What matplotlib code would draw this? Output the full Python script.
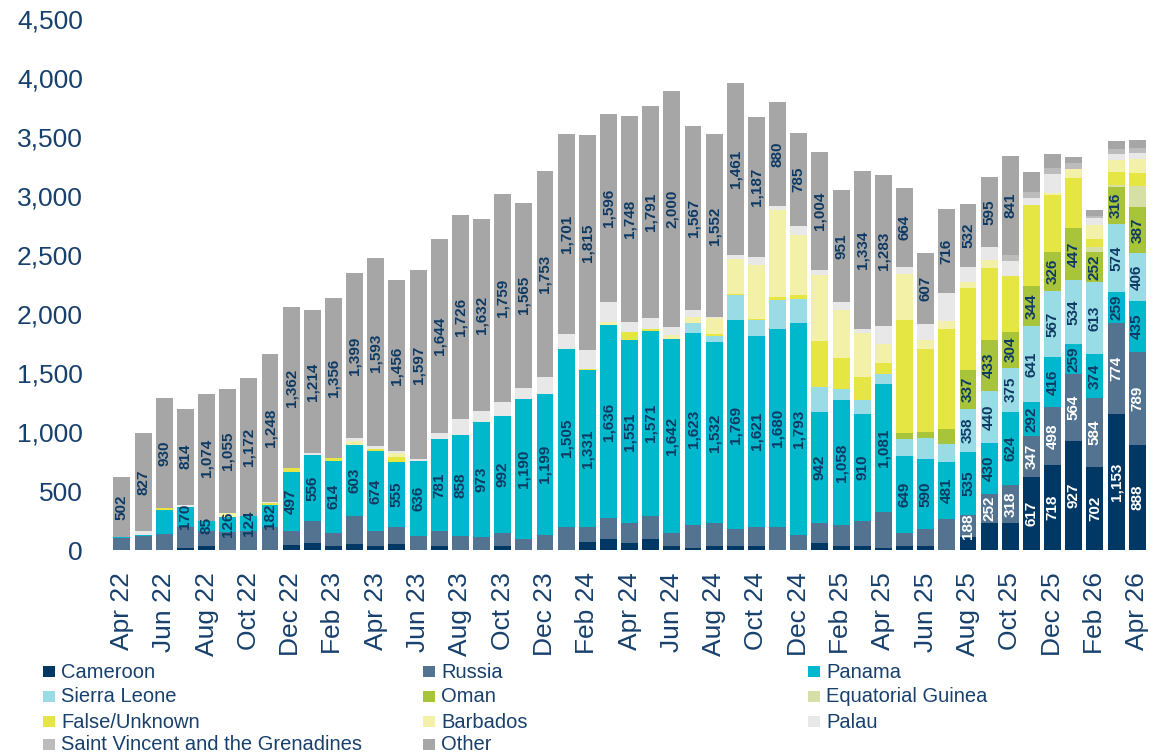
import numpy as np
import pandas as pd
import matplotlib
matplotlib.use("Agg")
import matplotlib.pyplot as plt
from matplotlib.patches import Rectangle

plt.rcParams['font.family'] = ['Liberation Sans', 'DejaVu Sans']

months = list(pd.date_range("2022-04-01", periods=49, freq="MS").strftime("%b %y"))

cameroon = [0, 0, 0, 20, 34, 0, 0, 0, 40, 59, 34, 51, 34, 51, 0, 34, 0, 0, 34, 0, 0, 0, 68, 93, 59,
            93, 34, 17, 34, 34, 34, 0, 0, 59, 34, 34, 17, 34, 34, 0, 110, 225, 229, 617, 718, 927, 702, 1153, 888]
russia = [105, 119, 139, 178, 127, 155, 161, 198, 125, 186, 110, 237, 127, 144, 119, 127, 119, 110, 110, 93, 127, 195, 127, 178, 169,
          195, 110, 195, 195, 144, 161, 195, 127, 169, 178, 212, 305, 110, 144, 263, 188, 252, 318, 347, 498, 564, 584, 774, 789]
panama = [8, 8, 203, 170, 85, 126, 124, 182, 497, 556, 614, 603, 674, 555, 636, 781, 858, 973, 992, 1190, 1199, 1505, 1331, 1636, 1551,
          1571, 1642, 1623, 1532, 1769, 1621, 1680, 1793, 942, 1058, 910, 1081, 649, 590, 481, 535, 430, 624, 292, 416, 259, 374, 259, 435]
sierra_leone = [0, 0, 0, 0, 0, 0, 0, 0, 0, 0, 0, 0, 0, 0, 0, 0, 0, 0, 0, 0, 0, 0, 0, 0, 0,
                0, 0, 85, 51, 212, 136, 246, 203, 212, 93, 119, 85, 144, 178, 153, 358, 440, 375, 641, 567, 534, 613, 574, 406]
oman = [0, 0, 0, 0, 0, 0, 0, 0, 0, 0, 0, 0, 0, 0, 0, 0, 0, 0, 0, 0, 0, 0, 0, 0, 0,
        0, 0, 0, 0, 0, 0, 0, 0, 0, 0, 0, 0, 51, 51, 127, 337, 433, 304, 344, 326, 447, 252, 316, 387]
eq_guinea = [0, 0, 0, 0, 0, 0, 0, 0, 0, 0, 0, 0, 0, 0, 0, 0, 0, 0, 0, 0, 0, 0, 0, 0, 0,
             0, 0, 0, 0, 0, 0, 0, 0, 0, 0, 0, 0, 0, 0, 0, 0, 0, 0, 0, 0, 0, 42, 17, 178]
false_unknown = [0, 0, 17, 0, 0, 0, 0, 17, 34, 0, 20, 0, 20, 34, 0, 0, 0, 0, 0, 0, 0, 0, 11, 0, 68,
                 17, 0, 0, 17, 8, 8, 25, 42, 390, 263, 195, 93, 957, 703, 847, 695, 610, 474, 686, 483, 424, 68, 110, 110]
barbados = [0, 0, 0, 0, 0, 31, 0, 0, 0, 0, 0, 34, 0, 34, 0, 0, 0, 0, 0, 0, 0, 0, 0, 25, 0,
            0, 34, 51, 136, 297, 458, 737, 508, 559, 407, 373, 161, 398, 76, 68, 51, 68, 0, 0, 17, 76, 119, 102, 119]
palau = [0, 34, 0, 17, 0, 0, 0, 14, 0, 17, 0, 25, 23, 17, 17, 51, 136, 93, 119, 93, 136, 127, 161, 169, 85,
         93, 68, 59, 8, 34, 68, 34, 76, 42, 68, 34, 153, 59, 136, 237, 127, 110, 127, 59, 161, 0, 59, 51, 51]
st_vincent = [0, 0, 0, 0, 0, 0, 0, 0, 0, 0, 0, 0, 0, 0, 0, 0, 0, 0, 0, 0, 0, 0, 0, 0, 0,
              0, 0, 0, 0, 0, 0, 0, 0, 0, 0, 0, 0, 0, 0, 0, 0, 0, 51, 51, 51, 51, 17, 42, 42]
other = [502, 827, 930, 814, 1074, 1055, 1172, 1248, 1362, 1214, 1356, 1399, 1593, 1456, 1597, 1644, 1726, 1632, 1759, 1565, 1753, 1701, 1815, 1596, 1748,
         1791, 2000, 1567, 1552, 1461, 1187, 880, 785, 1004, 951, 1334, 1283, 664, 607, 716, 532, 595, 841, 169, 119, 51, 51, 68, 68]

series = [
    ("Cameroon", cameroon, "#003865"),
    ("Russia", russia, "#537391"),
    ("Panama", panama, "#00B8CC"),
    ("Sierra Leone", sierra_leone, "#99DCE6"),
    ("Oman", oman, "#A8C43A"),
    ("Equatorial Guinea", eq_guinea, "#D6E0A6"),
    ("False/Unknown", false_unknown, "#E5E544"),
    ("Barbados", barbados, "#F3F0A8"),
    ("Palau", palau, "#E8E8E8"),
    ("Saint Vincent and the Grenadines", st_vincent, "#BCBCBC"),
    ("Other", other, "#A6A6A6"),
]

# which segments carry a value label: (first bar index, minimum value)
label_rules = {
    "Cameroon": (43, 100),
    "Russia": (40, 100),
    "Panama": (3, 50),
    "Sierra Leone": (40, 100),
    "Oman": (40, 100),
    "Other": (0, 300),
}
white_labels = {"Cameroon", "Russia"}

text_col = "#17406D"
label_col = "#0E3A63"

fig = plt.figure(figsize=(11.7, 7.56), dpi=100)
ax = fig.add_axes([108 / 1170, 1 - 550 / 756, 1044 / 1170, 531 / 756])

x = np.arange(len(months))
bottom = np.zeros(len(months))
for name, vals, col in series:
    vals = np.array(vals, dtype=float)
    ax.bar(x, vals, 0.8, bottom=bottom, color=col, linewidth=0)
    if name in label_rules:
        start, vmin = label_rules[name]
        for i in range(start, len(months)):
            if vals[i] >= vmin:
                ax.text(x[i], bottom[i] + vals[i] / 2, f"{int(vals[i]):,}",
                        rotation=90, ha="center", va="center", fontsize=11,
                        fontweight="bold",
                        color="white" if name in white_labels else label_col)
    bottom += vals

ax.set_xlim(-0.66, 48.7)
ax.set_ylim(0, 4500)
ax.set_yticks(np.arange(0, 4501, 500))
ax.set_yticklabels([f"{v:,}" for v in range(0, 4501, 500)])
ax.set_xticks(x[::2])
ax.set_xticklabels(months[::2], rotation=90)
ax.tick_params(axis="y", length=0, pad=18, labelsize=19, labelcolor=text_col)
ax.tick_params(axis="x", length=0, pad=16, labelsize=19, labelcolor=text_col)
for s in ax.spines.values():
    s.set_visible(False)

# legend laid out in three columns, row by row like the original
col_x = [43, 423, 808]
row_y = [672, 697, 722, 745]
for k, (name, vals, col) in enumerate(series):
    r, c = divmod(k, 3)
    px, py = col_x[c], row_y[r]
    fig.patches.append(Rectangle((px / 1170, 1 - (py + 5) / 756), 12 / 1170, 11 / 756,
                                 transform=fig.transFigure, color=col, linewidth=0))
    fig.text((px + 18) / 1170, 1 - py / 756, name, fontsize=14.5, color=text_col,
             ha="left", va="center")

fig.savefig("out.png", dpi=100)
